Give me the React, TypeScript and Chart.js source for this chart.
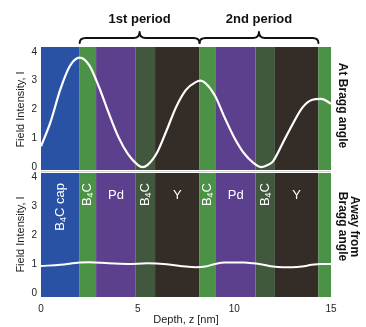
import React, { useEffect, useRef } from "react";
import { Chart, registerables } from "chart.js";

Chart.register(...registerables);

// ---------- data ----------
const depthTop = [0, 0.5, 1, 1.5, 2, 2.5, 3, 3.5, 4, 4.5, 5, 5.25, 5.5, 6, 6.5, 7, 7.5, 8, 8.25, 8.5, 9, 9.5, 10, 10.5, 11, 11.4, 11.75, 12, 12.5, 13, 13.5, 14, 14.5, 15];
const intensityTop = [0.72, 1.58, 2.7, 3.52, 3.8, 3.53, 2.78, 1.88, 1.05, 0.45, 0.08, 0.0, 0.07, 0.5, 1.28, 2.1, 2.68, 2.95, 3.0, 2.92, 2.48, 1.72, 1.02, 0.48, 0.14, 0.0, 0.08, 0.2, 0.83, 1.47, 2.05, 2.33, 2.37, 2.2];

const depthBottom = [0, 1, 2, 2.5, 3.5, 4.5, 5.5, 6.5, 7.5, 8, 8.5, 9, 9.5, 10.5, 11, 11.5, 12, 12.5, 13, 13.5, 14, 14.5, 15];
const intensityBottom = [0.93, 0.97, 1.05, 1.06, 1.02, 1.0, 1.02, 0.99, 0.91, 0.89, 0.91, 1.0, 1.05, 1.05, 1.02, 0.97, 0.91, 0.89, 0.89, 0.91, 0.97, 1.0, 1.0];

const yTicks = [0, 1, 2, 3, 4];
const xTicks = [0, 5, 10, 15];

const layerBounds = [0, 2.0, 2.85, 4.9, 5.9, 8.2, 9.05, 11.1, 12.1, 14.35, 15];
const layerNames = ["B4C cap", "B4C", "Pd", "B4C", "Y", "B4C", "Pd", "B4C", "Y", "B4C"];

const periodBounds = [2.0, 8.2, 14.35];
const periodLabels = ["1st period", "2nd period"];

const panelLabelTop = ["At Bragg angle"];
const panelLabelBottom = ["Away from", "Bragg angle"];
const yTitle = "Field Intensity, I";
const xTitle = "Depth, z [nm]";

// ---------- styles ----------
const layerColors = ["#2a52a4", "#4c9246", "#5c408e", "#42583e", "#342c26", "#4c9246", "#5c408e", "#42583e", "#342c26", "#4c9246"];
const FONT = "'Liberation Sans', Arial, sans-serif";
const TEXT = "#222";

function drawB4C(ctx: CanvasRenderingContext2D, name: string, cx: number, topY: number) {
  const big = "13px " + FONT;
  const small = "9px " + FONT;
  const rest = name.slice(3);
  const segs = [
    { t: "B", f: big, dy: 0 },
    { t: "4", f: small, dy: 3 },
    { t: "C" + rest, f: big, dy: 0 },
  ];
  let total = 0;
  const widths: number[] = [];
  for (const s of segs) {
    ctx.font = s.f;
    const w = ctx.measureText(s.t).width;
    widths.push(w);
    total += w;
  }
  ctx.save();
  ctx.translate(cx, topY);
  ctx.rotate(-Math.PI / 2);
  ctx.fillStyle = "#fff";
  ctx.textBaseline = "middle";
  ctx.textAlign = "left";
  let u = -total;
  segs.forEach((s, i) => {
    ctx.font = s.f;
    ctx.fillText(s.t, u, s.dy);
    u += widths[i];
  });
  ctx.restore();
}

function drawBrace(ctx: CanvasRenderingContext2D, xa: number, xb: number) {
  const yEnd = 43;
  const yMid = 38;
  const yTip = 32;
  const r = 6;
  const m = (xa + xb) / 2;
  ctx.beginPath();
  ctx.moveTo(xa, yEnd);
  ctx.quadraticCurveTo(xa, yMid, xa + r, yMid);
  ctx.lineTo(m - r, yMid);
  ctx.quadraticCurveTo(m, yMid, m, yTip);
  ctx.quadraticCurveTo(m, yMid, m + r, yMid);
  ctx.lineTo(xb - r, yMid);
  ctx.quadraticCurveTo(xb, yMid, xb, yEnd);
  ctx.stroke();
}

const layerPlugin = {
  id: "layers",
  beforeDatasetsDraw(chart: any) {
    const ctx = chart.ctx as CanvasRenderingContext2D;
    const xs = chart.scales.x;
    const panels = [chart.scales.yTop, chart.scales.yBot];
    ctx.save();
    panels.forEach((ys: any, p: number) => {
      const top = ys.top + (p === 1 ? 1 : 0);
      const bottom = ys.bottom - (p === 0 ? 2 : 0);
      for (let i = 0; i < layerBounds.length - 1; i++) {
        const x0 = xs.getPixelForValue(layerBounds[i]);
        const x1 = xs.getPixelForValue(layerBounds[i + 1]);
        ctx.fillStyle = layerColors[i];
        ctx.fillRect(x0, top, x1 - x0, bottom - top);
      }
    });
    const yS = chart.scales.yTop.bottom - 1;
    ctx.fillStyle = "#d0d0d0";
    ctx.fillRect(xs.left, yS, xs.right - xs.left, 1);
    ctx.restore();
  },
  afterDraw(chart: any) {
    const ctx = chart.ctx as CanvasRenderingContext2D;
    const xs = chart.scales.x;
    const yTop = chart.scales.yTop;
    const yBot = chart.scales.yBot;
    ctx.save();
    ctx.strokeStyle = "#111";
    ctx.lineWidth = 2;
    ctx.lineCap = "round";
    ctx.lineJoin = "round";
    for (let i = 0; i < periodBounds.length - 1; i++) {
      const xa = xs.getPixelForValue(periodBounds[i]);
      const xb = xs.getPixelForValue(periodBounds[i + 1]);
      drawBrace(ctx, xa, xb);
      ctx.fillStyle = "#111";
      ctx.font = "bold 13px " + FONT;
      ctx.textAlign = "center";
      ctx.textBaseline = "middle";
      ctx.fillText(periodLabels[i], (xa + xb) / 2, 19);
    }
    ctx.font = "bold 12px " + FONT;
    ctx.fillStyle = "#111";
    ctx.textAlign = "center";
    ctx.textBaseline = "middle";
    const drawRight = (lines: string[], cy: number) => {
      lines.forEach((t, i) => {
        const cx = xs.right + 11 + (lines.length - 1 - i) * 12;
        ctx.save();
        ctx.translate(cx, cy);
        ctx.rotate(Math.PI / 2);
        ctx.fillText(t, 0, 0);
        ctx.restore();
      });
    };
    drawRight(panelLabelTop, (yTop.top + yTop.bottom) / 2 - 4);
    drawRight(panelLabelBottom, (yBot.top + yBot.bottom) / 2 - 8);
    for (let i = 0; i < layerNames.length - 1; i++) {
      const name = layerNames[i];
      const cx = (xs.getPixelForValue(layerBounds[i]) + xs.getPixelForValue(layerBounds[i + 1])) / 2;
      if (name.startsWith("B4C")) {
        drawB4C(ctx, name, cx, yBot.top + 11);
      } else {
        ctx.font = "13px " + FONT;
        ctx.fillStyle = "#fff";
        ctx.textAlign = "center";
        ctx.textBaseline = "middle";
        ctx.fillText(name, cx, yBot.top + 23);
      }
    }
    ctx.restore();
  },
};

function yAxis(min: number, max: number, weight: number) {
  return {
    type: "linear" as const,
    position: "left" as const,
    stack: "panels",
    stackWeight: 1,
    weight,
    min,
    max,
    grid: { display: false, drawTicks: false },
    border: { display: false },
    afterBuildTicks: (s: any) => {
      s.ticks = yTicks.map((v) => ({ value: v }));
    },
    afterFit: (s: any) => {
      s.width = 41;
    },
    ticks: { font: { size: 10, family: FONT }, color: TEXT, padding: 4 },
    title: {
      display: true,
      text: yTitle,
      font: { size: 11, family: FONT },
      color: TEXT,
      padding: { top: 14, bottom: 0 },
    },
  };
}

export default function App() {
  const ref = useRef<HTMLCanvasElement | null>(null);
  useEffect(() => {
    if (!ref.current) return;
    const chart = new Chart(ref.current, {
      type: "line",
      data: {
        datasets: [
          {
            data: depthTop.map((x, i) => ({ x, y: intensityTop[i] })),
            yAxisID: "yTop",
            borderColor: "#ffffff",
            borderWidth: 2.2,
            pointRadius: 0,
            cubicInterpolationMode: "monotone",
          },
          {
            data: depthBottom.map((x, i) => ({ x, y: intensityBottom[i] })),
            yAxisID: "yBot",
            borderColor: "#ffffff",
            borderWidth: 2,
            pointRadius: 0,
            cubicInterpolationMode: "monotone",
          },
        ],
      },
      options: {
        animation: false,
        responsive: false,
        devicePixelRatio: 1,
        layout: { padding: { top: 47, right: 35, left: 0, bottom: 0 } },
        plugins: { legend: { display: false }, tooltip: { enabled: false } },
        scales: {
          x: {
            type: "linear",
            min: 0,
            max: 15,
            grid: { display: false, drawTicks: false },
            border: { display: false },
            afterBuildTicks: (s: any) => {
              s.ticks = xTicks.map((v) => ({ value: v }));
            },
            afterFit: (s: any) => {
              s.height = 30;
            },
            ticks: { font: { size: 10, family: FONT }, color: TEXT, padding: 6 },
            title: {
              display: true,
              text: xTitle,
              font: { size: 11, family: FONT },
              color: TEXT,
              padding: { top: 0, bottom: 0 },
            },
          },
          yTop: yAxis(-0.17, 4.17, 1),
          yBot: yAxis(-0.14, 4.17, 0),
        },
      } as any,
      plugins: [layerPlugin],
    });
    return () => chart.destroy();
  }, []);
  return (
    <div style={{ position: "absolute", left: 0, top: 0, width: 366, height: 327, background: "#fff" }}>
      <canvas ref={ref} width={366} height={327} style={{ display: "block", width: 366, height: 327 }} />
    </div>
  );
}
